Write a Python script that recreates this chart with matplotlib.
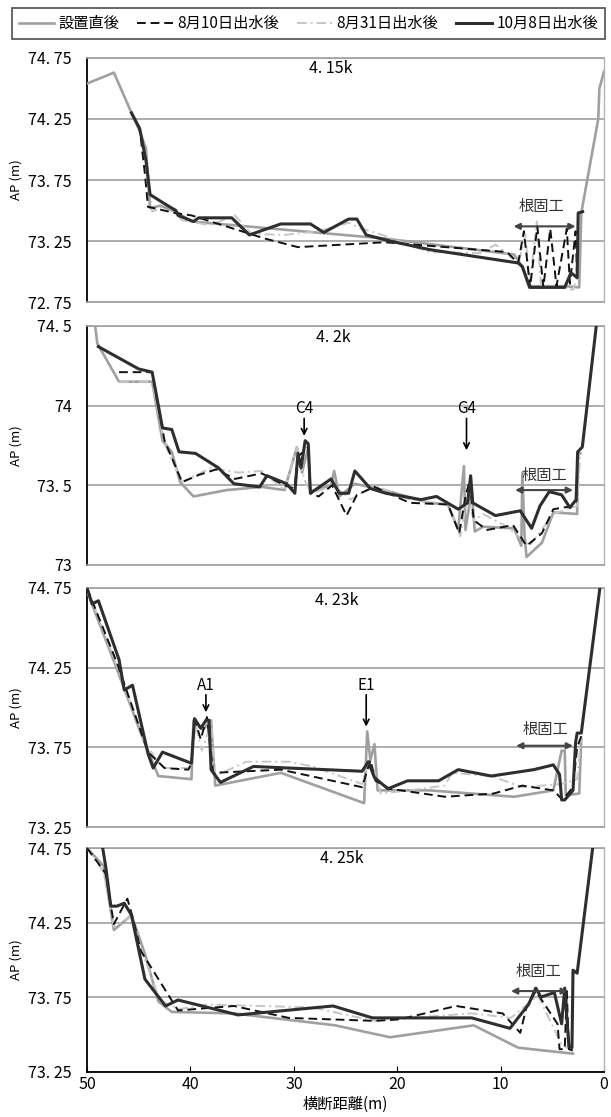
import numpy as np
import matplotlib
matplotlib.use('Agg')
import matplotlib.pyplot as plt
from matplotlib.lines import Line2D
from matplotlib import font_manager

plt.rcParams['font.family'] = ['Noto Sans CJK JP', 'DejaVu Sans']

# narrow face for the numbers, like the original's half-width gothic digits
installed = {f.name for f in font_manager.fontManager.ttflist}
if 'Liberation Sans Narrow' in installed:
    num_font = ['Liberation Sans Narrow', 'Noto Sans CJK JP']
    num_size = 12.5
else:
    num_font = ['Noto Sans CJK JP', 'DejaVu Sans']
    num_size = 11.5

series_names = ['設置直後', '8月10日出水後', '8月31日出水後', '10月8日出水後']
section_names = ['4. 15k', '4. 2k', '4. 23k', '4. 25k']

# --- 4.15k ---
p1_x_init = [50.0, 47.4, 45.7, 45.0, 44.3, 43.9, 42.9, 41.2, 39.9, 21.2, 8.7, 7.9, 7.2, 3.8, 2.4, 2.2, 0.56, 0.45, 0.0]
p1_y_init = [74.54, 74.63, 74.30, 74.17, 74.01, 73.52, 73.54, 73.48, 73.41, 73.27, 73.14, 73.04, 72.88, 72.88, 72.87, 73.48, 74.25, 74.50, 74.64]
p1_x_aug10 = [45.7, 44.9, 44.4, 44.1, 41.5, 39.9, 32.8, 29.6, 21.2, 9.4, 8.3, 7.75, 7.15, 6.45, 5.87, 5.2, 4.6, 3.6, 3.3, 2.75, 2.6]
p1_y_aug10 = [74.30, 74.17, 73.80, 73.53, 73.48, 73.46, 73.27, 73.20, 73.24, 73.16, 73.07, 73.33, 72.87, 73.37, 72.87, 73.35, 72.88, 73.35, 72.90, 73.33, 72.94]
p1_x_aug31 = [45.7, 44.9, 44.3, 43.7, 42.3, 40.8, 38.1, 35.7, 34.1, 30.9, 27.6, 24.7, 23.4, 21.8, 16.9, 12.0, 10.5, 9.4, 8.3, 7.6, 7.2, 6.5, 6.1, 5.0, 4.0, 3.0, 2.6]
p1_y_aug31 = [74.30, 74.17, 73.95, 73.49, 73.55, 73.42, 73.38, 73.46, 73.31, 73.30, 73.33, 73.40, 73.35, 73.31, 73.16, 73.15, 73.22, 73.15, 73.06, 73.30, 72.90, 73.41, 72.88, 72.88, 72.87, 72.85, 72.95]
p1_x_oct = [45.7, 44.9, 44.3, 43.9, 42.2, 41.4, 41.2, 39.7, 39.2, 36.0, 34.3, 31.25, 28.4, 27.1, 24.7, 23.9, 23.0, 20.7, 16.9, 8.3, 7.9, 7.2, 3.8, 3.2, 2.6, 2.5, 2.07]
p1_y_oct = [74.30, 74.17, 73.91, 73.63, 73.54, 73.50, 73.46, 73.41, 73.44, 73.44, 73.30, 73.39, 73.39, 73.32, 73.43, 73.43, 73.30, 73.25, 73.18, 73.07, 73.04, 72.87, 72.87, 72.99, 72.95, 73.48, 73.49]

# --- 4.2k ---
p2_x_init = [49.8, 49.0, 46.9, 43.7, 42.7, 41.8, 41.0, 39.7, 36.5, 33.1, 30.9, 29.7, 29.2, 28.6, 28.4, 26.4, 26.1, 25.6, 24.1, 20.7, 16.9, 15.1, 14.1, 13.55, 13.4, 12.8, 12.5, 11.7, 8.7, 8.0, 7.9, 7.7, 7.5, 6.0, 4.9, 2.6, 2.5, 2.3]
p2_y_init = [74.80, 74.39, 74.15, 74.15, 73.78, 73.71, 73.52, 73.43, 73.47, 73.49, 73.47, 73.74, 73.58, 73.74, 73.46, 73.50, 73.59, 73.43, 73.51, 73.46, 73.39, 73.38, 73.22, 73.62, 73.22, 73.47, 73.21, 73.24, 73.23, 73.12, 73.58, 73.20, 73.05, 73.14, 73.33, 73.32, 73.70, 73.70]
p2_x_aug10 = [46.9, 43.7, 42.5, 40.8, 39.2, 37.5, 35.7, 33.1, 30.9, 29.95, 29.6, 28.6, 28.4, 27.6, 26.3, 24.9, 23.9, 22.2, 18.8, 15.1, 14.0, 13.4, 13.0, 12.6, 11.3, 8.8, 7.5, 6.0, 4.9, 3.0, 2.6]
p2_y_aug10 = [74.21, 74.21, 73.78, 73.52, 73.565, 73.60, 73.54, 73.575, 73.50, 73.48, 73.68, 73.74, 73.45, 73.43, 73.50, 73.31, 73.44, 73.49, 73.39, 73.38, 73.20, 73.43, 73.53, 73.28, 73.22, 73.25, 73.12, 73.20, 73.35, 73.37, 73.41]
p2_x_aug31 = [46.9, 43.7, 42.5, 40.8, 38.0, 35.4, 33.1, 30.9, 29.7, 29.0, 28.3, 26.1, 24.5, 22.2, 18.8, 15.1, 13.9, 13.2, 12.6, 11.7, 9.4, 7.9, 7.2, 4.9, 2.6, 2.3]
p2_y_aug31 = [74.15, 74.15, 73.76, 73.52, 73.61, 73.58, 73.59, 73.47, 73.74, 73.54, 73.45, 73.50, 73.41, 73.50, 73.41, 73.38, 73.18, 73.42, 73.28, 73.32, 73.24, 73.16, 73.12, 73.32, 73.37, 73.70]
p2_x_oct = [48.9, 45.0, 43.7, 42.7, 41.8, 41.1, 39.5, 37.3, 35.8, 33.3, 32.6, 30.7, 29.9, 29.6, 29.3, 28.9, 28.6, 28.4, 26.4, 25.6, 24.7, 24.1, 22.6, 21.1, 17.7, 16.2, 14.1, 13.2, 12.9, 12.7, 10.5, 8.1, 7.0, 6.2, 5.3, 4.1, 3.3, 2.7, 2.55, 2.1, 0.75, 0.5]
p2_y_oct = [74.37, 74.23, 74.21, 73.86, 73.85, 73.71, 73.70, 73.61, 73.51, 73.49, 73.56, 73.51, 73.45, 73.70, 73.61, 73.78, 73.76, 73.45, 73.54, 73.45, 73.45, 73.59, 73.48, 73.45, 73.41, 73.43, 73.35, 73.39, 73.56, 73.39, 73.31, 73.34, 73.23, 73.37, 73.46, 73.44, 73.36, 73.41, 73.71, 73.74, 74.50, 74.65]

# --- 4.23k ---
p3_x_init = [50.0, 47.1, 44.8, 43.1, 39.9, 39.7, 38.8, 38.0, 37.6, 31.25, 23.2, 22.9, 22.6, 22.2, 21.9, 16.9, 8.7, 4.9, 4.1, 3.8, 3.7, 2.4, 2.2]
p3_y_init = [74.73, 74.24, 73.84, 73.57, 73.55, 73.92, 73.86, 73.92, 73.51, 73.59, 73.40, 73.85, 73.67, 73.77, 73.48, 73.48, 73.44, 73.48, 73.73, 73.73, 73.45, 73.46, 73.80]
p3_x_aug10 = [50.0, 47.1, 44.1, 42.5, 40.2, 39.9, 39.6, 39.0, 38.4, 37.8, 31.25, 23.4, 22.6, 22.1, 20.7, 15.4, 10.7, 7.9, 4.9, 4.0, 3.0, 2.6, 2.2]
p3_y_aug10 = [74.75, 74.28, 73.72, 73.62, 73.61, 73.65, 73.93, 73.80, 73.94, 73.59, 73.61, 73.50, 73.67, 73.54, 73.49, 73.44, 73.46, 73.51, 73.48, 73.42, 73.50, 73.75, 73.82]
p3_x_aug31 = [50.0, 47.1, 44.5, 43.3, 42.5, 39.9, 39.5, 38.9, 38.0, 37.6, 34.6, 30.5, 28.2, 23.4, 22.8, 22.2, 21.6, 18.8, 15.4, 14.7, 10.9, 7.9, 4.1, 2.6, 2.2]
p3_y_aug31 = [74.75, 74.26, 73.80, 73.67, 73.62, 73.62, 73.90, 73.73, 73.90, 73.57, 73.66, 73.66, 73.63, 73.52, 73.67, 73.60, 73.46, 73.48, 73.51, 73.59, 73.57, 73.50, 73.52, 73.55, 73.82]
p3_x_oct = [50.0, 49.5, 48.9, 46.9, 46.4, 45.6, 44.1, 43.6, 42.7, 39.9, 39.6, 39.0, 38.5, 38.2, 38.0, 37.1, 33.9, 23.4, 22.8, 22.2, 20.9, 19.0, 16.0, 14.1, 10.9, 6.8, 4.9, 4.3, 4.1, 3.8, 3.0, 2.75, 2.6, 2.2, 0.4, 0.2]
p3_y_oct = [74.75, 74.65, 74.67, 74.30, 74.11, 74.14, 73.71, 73.62, 73.72, 73.65, 73.93, 73.87, 73.92, 73.92, 73.61, 73.53, 73.63, 73.60, 73.66, 73.56, 73.49, 73.54, 73.54, 73.61, 73.57, 73.61, 73.64, 73.58, 73.42, 73.42, 73.48, 73.78, 73.84, 73.84, 74.75, 74.85]

# --- 4.25k ---
p4_x_init = [50.0, 48.4, 47.4, 45.7, 44.4, 43.1, 41.8, 35.8, 26.0, 20.7, 12.6, 8.3, 3.0]
p4_y_init = [74.75, 74.63, 74.20, 74.30, 74.04, 73.72, 73.65, 73.64, 73.56, 73.48, 73.56, 73.41, 73.37]
p4_x_aug10 = [50.0, 48.2, 47.4, 46.1, 45.6, 44.8, 41.2, 35.8, 30.5, 22.2, 19.8, 14.3, 9.8, 8.1, 7.5, 6.6, 4.5, 4.3, 3.8, 3.6, 3.4, 3.0]
p4_y_aug10 = [74.75, 74.58, 74.24, 74.41, 74.29, 74.06, 73.66, 73.69, 73.61, 73.59, 73.60, 73.69, 73.64, 73.51, 73.68, 73.79, 73.57, 73.40, 73.40, 73.79, 73.40, 73.39]
p4_x_aug31 = [50.0, 48.4, 47.4, 45.8, 44.8, 42.9, 41.0, 38.4, 28.2, 22.2, 18.8, 12.8, 9.0, 6.4, 4.1, 3.0]
p4_y_aug31 = [74.75, 74.59, 74.22, 74.29, 74.08, 73.72, 73.67, 73.70, 73.68, 73.59, 73.61, 73.64, 73.61, 73.76, 73.43, 73.39]
p4_x_oct = [48.6, 48.2, 47.7, 47.1, 46.4, 45.7, 44.4, 42.4, 41.2, 35.4, 26.2, 22.4, 12.8, 9.1, 7.3, 6.6, 6.1, 4.8, 4.1, 3.8, 3.4, 3.1, 3.0, 2.6, 1.1, 0.9]
p4_y_oct = [74.80, 74.63, 74.36, 74.36, 74.38, 74.30, 73.87, 73.69, 73.73, 73.63, 73.69, 73.61, 73.61, 73.54, 73.70, 73.81, 73.75, 73.78, 73.57, 73.81, 73.42, 73.41, 73.93, 73.91, 74.75, 74.85]

y_ticks = [
    [72.75, 73.25, 73.75, 74.25, 74.75],
    [73.0, 73.5, 74.0, 74.5],
    [73.25, 73.75, 74.25, 74.75],
    [73.25, 73.75, 74.25, 74.75],
]
y_tick_labels = [
    ['72. 75', '73. 25', '73. 75', '74. 25', '74. 75'],
    ['73', '73. 5', '74', '74. 5'],
    ['73. 25', '73. 75', '74. 25', '74. 75'],
    ['73. 25', '73. 75', '74. 25', '74. 75'],
]
x_ticks = [50, 40, 30, 20, 10, 0]

panels = [
    [(p1_x_init, p1_y_init), (p1_x_aug31, p1_y_aug31), (p1_x_aug10, p1_y_aug10), (p1_x_oct, p1_y_oct)],
    [(p2_x_init, p2_y_init), (p2_x_aug31, p2_y_aug31), (p2_x_aug10, p2_y_aug10), (p2_x_oct, p2_y_oct)],
    [(p3_x_init, p3_y_init), (p3_x_aug31, p3_y_aug31), (p3_x_aug10, p3_y_aug10), (p3_x_oct, p3_y_oct)],
    [(p4_x_init, p4_y_init), (p4_x_aug31, p4_y_aug31), (p4_x_aug10, p4_y_aug10), (p4_x_oct, p4_y_oct)],
]

# styles in drawing order: init, aug31, aug10, oct
styles = [
    dict(color='#a0a0a0', lw=1.9, ls='-'),
    dict(color='#c6c6c6', lw=1.4, ls=(0, (5, 2, 1, 2))),
    dict(color='#111111', lw=1.4, ls=(0, (4.5, 2.5))),
    dict(color='#2e2e2e', lw=2.2, ls='-'),
]

rects = [
    [0.1424, 0.7296, 0.8462, 0.2185],
    [0.1424, 0.4942, 0.8462, 0.2140],
    [0.1424, 0.2596, 0.8462, 0.2140],
    [0.1424, 0.0407, 0.8462, 0.2001],
]
title_x = [26.4, 26.2, 25.8, 25.4]
title_y = [0.958, 0.952, 0.947, 0.955]
# 根固工 label and arrow: text x, text y, arrow from, arrow to, arrow y
nekatame = [
    (6.0, 73.53, 8.75, 2.75, 73.37),
    (5.8, 73.56, 8.6, 3.0, 73.47),
    (5.7, 73.86, 8.5, 3.0, 73.76),
    (6.3, 73.92, 9.0, 3.5, 73.79),
]

fig = plt.figure(figsize=(6.11, 11.17), dpi=100)
axes = []
for i, rect in enumerate(rects):
    ax = fig.add_axes(rect)
    axes.append(ax)
    for (xs, ys), st in zip(panels[i], styles):
        ax.plot(xs, ys, color=st['color'], lw=st['lw'], ls=st['ls'], zorder=3)
    ax.set_xlim(50, 0)
    ax.set_ylim(y_ticks[i][0], y_ticks[i][-1])
    ax.set_yticks(y_ticks[i])
    ax.set_yticklabels(y_tick_labels[i], family=num_font, fontsize=num_size)
    ax.tick_params(axis='y', length=0, pad=11)
    ax.yaxis.grid(True, color='#a0a0a0', lw=1.2, zorder=1)
    ax.set_axisbelow(True)
    ax.spines['left'].set_color('black')
    ax.spines['left'].set_linewidth(1.3)
    ax.spines['top'].set_color('#a0a0a0')
    ax.spines['top'].set_linewidth(1.2)
    ax.spines['right'].set_color('#b4b4b4')
    ax.spines['right'].set_linewidth(1.0)
    ax.set_ylabel('AP (m)', fontsize=9.5)
    ax.yaxis.set_label_coords(-0.125, 0.5)
    ax.set_xticks(x_ticks)
    if i < 3:
        ax.spines['bottom'].set_color('#a0a0a0')
        ax.spines['bottom'].set_linewidth(1.2)
        ax.tick_params(axis='x', length=0, labelbottom=False)
    else:
        ax.spines['bottom'].set_color('black')
        ax.spines['bottom'].set_linewidth(1.3)
        ax.set_xticklabels([str(t) for t in x_ticks], family=num_font, fontsize=num_size)
        ax.tick_params(axis='x', direction='in', length=4, pad=3)
        ax.set_xlabel('横断距離(m)', fontsize=11, labelpad=2)

    ax.text(title_x[i], title_y[i], section_names[i], transform=ax.get_xaxis_transform(),
            ha='center', va='center', family=num_font, fontsize=num_size)

    tx, ty, a0, a1, ay = nekatame[i]
    ax.text(tx, ty, '根固工', ha='center', va='center', fontsize=11, color='#333333', zorder=5)
    ax.annotate('', xy=(a1, ay), xytext=(a0, ay),
                arrowprops=dict(arrowstyle='<|-|>', color='#444444', lw=1.5,
                                mutation_scale=9, shrinkA=0, shrinkB=0), zorder=5)

# point markers with arrows
def mark(ax, label, x, ty, y0, y1):
    ax.text(x, ty, label, ha='center', va='center', family=num_font, fontsize=num_size - 0.5)
    ax.annotate('', xy=(x, y1), xytext=(x, y0),
                arrowprops=dict(arrowstyle='->', color='black', lw=1.2,
                                shrinkA=0, shrinkB=0, mutation_scale=10))

mark(axes[1], 'C4', 29.0, 73.98, 73.92, 73.81)
mark(axes[1], 'G4', 13.3, 73.98, 73.92, 73.72)
mark(axes[2], 'A1', 38.5, 74.14, 74.08, 73.97)
mark(axes[2], 'E1', 23.0, 74.14, 74.08, 73.88)

handles = [
    Line2D([], [], color=styles[0]['color'], lw=styles[0]['lw'], ls=styles[0]['ls']),
    Line2D([], [], color=styles[2]['color'], lw=styles[2]['lw'], ls=styles[2]['ls']),
    Line2D([], [], color=styles[1]['color'], lw=styles[1]['lw'], ls=styles[1]['ls']),
    Line2D([], [], color=styles[3]['color'], lw=styles[3]['lw'], ls=styles[3]['ls']),
]
leg = fig.legend(handles, series_names, loc='lower left',
                 bbox_to_anchor=(0.0196, 0.9651, 0.9705, 0.0304), mode='expand',
                 ncol=4, frameon=True, fancybox=False, edgecolor='#333333',
                 handlelength=2.3, handletextpad=0.3, borderaxespad=0,
                 fontsize=11, borderpad=0.45, columnspacing=1.0)
leg.get_frame().set_linewidth(1.3)

fig.savefig('out.png', dpi=100)
